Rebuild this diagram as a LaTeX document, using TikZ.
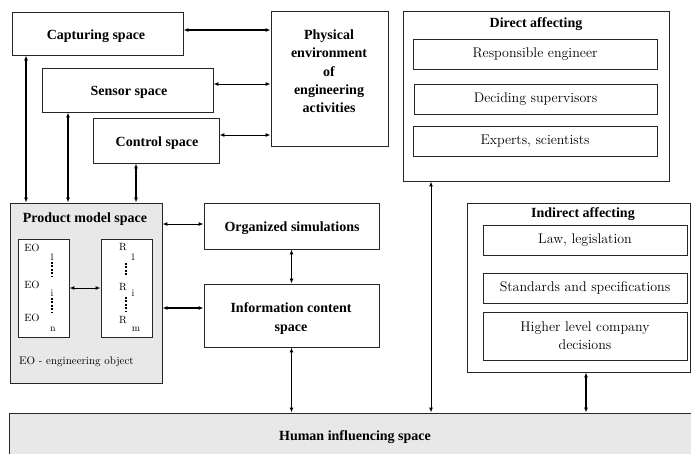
\documentclass[tikz,border=0pt]{standalone}
\usepackage{fontspec}
\setmainfont{Liberation Serif}
\newfontfamily\lmr{Latin Modern Roman}
\usetikzlibrary{arrows.meta}
\definecolor{panelgray}{HTML}{E8E8E8}
\definecolor{edge}{HTML}{262626}
\begin{document}
\begin{tikzpicture}[x=1pt,y=-1pt,
  box/.style={draw=edge,line width=0.9pt,fill=white,inner sep=0pt,align=center},
  ttl/.style={font=\rmfamily\bfseries\fontsize{14}{18.3}\selectfont,align=center},
  txt/.style={font=\lmr\fontsize{14}{18}\selectfont,align=center},
  small/.style={font=\lmr\fontsize{10.5}{12}\selectfont,inner sep=0pt},
  tiny/.style={font=\lmr\fontsize{10}{11}\selectfont,inner sep=0pt},
  arr/.style={draw=black,line width=1pt,{Latex[length=5pt,width=4pt]}-{Latex[length=5pt,width=4pt]}},
  heavy/.style={line width=1.8pt},
  vdot/.style={draw=black,line width=1.6pt,dash pattern=on 2pt off 1.4pt}]
\useasboundingbox (0,0) rectangle (691,453);
\begin{scope}
\clip (0,0) rectangle (691,453);

% left column of spaces
\node[box,minimum width=171,minimum height=43] (cap) at (97.5,33.5) {};
\node[ttl] (capt) at (96,36) {Capturing space};
\node[box,minimum width=171,minimum height=44] (sen) at (127.5,90) {};
\node[ttl] (sent) at (129,92) {Sensor space};
\node[box,minimum width=126,minimum height=45] (ctl) at (156,140.5) {};
\node[ttl] (ctlt) at (157,143) {Control space};
\node[box,minimum width=117,minimum height=135] (phy) at (329.5,78.5) {};
\node[ttl] (phyt) at (329,71.5) {Physical\\environment\\of\\engineering\\activities};

% product model space
\node[box,fill=panelgray,minimum width=152,minimum height=180] (pms) at (86,293) {};
\node[ttl] (pmst) at (85,219) {Product model space};
\node[box,minimum width=51,minimum height=98] (eo) at (43.5,288) {};
\node[box,minimum width=51,minimum height=98] (rr) at (126.5,288) {};
\node[small] (eo1) at (32,248) {EO};
\node[small] (eo2) at (32,285) {EO};
\node[small] (eo3) at (32,318) {EO};
\node[tiny] (s1) at (52,257) {1};
\node[tiny] (s2) at (52,293) {i};
\node[tiny] (s3) at (53,329) {n};
\draw[vdot] (52,262) -- (52,276);
\draw[vdot] (52,298) -- (52,313);
\node[small] (r1) at (123,247) {R};
\node[small] (r2) at (123,287) {R};
\node[small] (r3) at (123,320) {R};
\node[tiny] (t1) at (133,257) {1};
\node[tiny] (t2) at (133,293) {i};
\node[tiny] (t3) at (136,329) {m};
\draw[vdot] (126,263) -- (126,276);
\draw[vdot] (126,297) -- (126,311);
\node[font=\lmr\fontsize{11}{12}\selectfont,anchor=west,inner sep=0pt] (eonote) at (19,362) {EO - engineering object};

% simulation and information spaces
\node[box,minimum width=175,minimum height=46] (org) at (291.5,226) {};
\node[ttl] (orgt) at (292,228) {Organized simulations};
\node[box,minimum width=175,minimum height=63] (inf) at (291.5,315.5) {};
\node[ttl] (inft) at (291,318.5) {Information content\\space};

% direct affecting
\node[box,minimum width=266,minimum height=170] (dir) at (536,96) {};
\node[ttl] (dirt) at (536,24) {Direct affecting};
\node[box,txt,minimum width=244,minimum height=30] (re) at (535,54) {Responsible engineer};
\node[box,txt,minimum width=243,minimum height=30] (ds) at (535.5,99) {Deciding supervisors};
\node[box,txt,minimum width=244,minimum height=30] (ex) at (535,141) {Experts, scientists};

% indirect affecting
\node[box,minimum width=223,minimum height=169] (ind) at (578.5,287.5) {};
\node[ttl] (indt) at (583,214) {Indirect affecting};
\node[box,txt,minimum width=204,minimum height=30] (law) at (585,240) {Law, legislation};
\node[box,txt,minimum width=204,minimum height=30] (std) at (585,288) {Standards and specifications};
\node[box,txt,minimum width=204,minimum height=48] (hld) at (585,336) {Higher level company\\decisions};

% human influencing space
\node[box,fill=panelgray,minimum width=690.5,minimum height=48] (hum) at (354.75,437) {};
\node[ttl] (humt) at (355,437) {Human influencing space};

% connectors
\draw[arr,heavy] ([yshift=3.5pt]cap.east) -- ([yshift=3.5pt]cap.east -| phy.west);
\draw[arr] ([yshift=6pt]sen.east) -- ([yshift=6pt]sen.east -| phy.west);
\draw[arr] ([yshift=5.5pt]ctl.east) -- ([yshift=5.5pt]ctl.east -| phy.west);
\draw[arr,line width=1.2pt] ([xshift=-71.5pt]cap.south) -- ([xshift=-71.5pt]cap.south |- pms.north);
\draw[arr,heavy] ([xshift=-59.5pt]sen.south) -- ([xshift=-59.5pt]sen.south |- pms.north);
\draw[arr,line width=1.4pt] ([xshift=-20pt]ctl.south) -- ([xshift=-20pt]ctl.south |- pms.north);
\draw[arr] ([yshift=2pt]org.west -| pms.east) -- ([yshift=2pt]org.west);
\draw[arr,heavy] ([yshift=7.5pt]inf.west -| pms.east) -- ([yshift=7.5pt]inf.west);
\draw[arr] (eo.east) -- (rr.west);
\draw[arr,line width=1.4pt] (org.south) -- (inf.north);
\draw[arr] (inf.south) -- (inf.south |- hum.north);
\draw[arr] ([xshift=-105pt]dir.south) -- ([xshift=-105pt]dir.south |- hum.north);
\draw[arr,line width=1.4pt] ([xshift=7.5pt]ind.south) -- ([xshift=7.5pt]ind.south |- hum.north);
\end{scope}
\end{tikzpicture}
\end{document}
